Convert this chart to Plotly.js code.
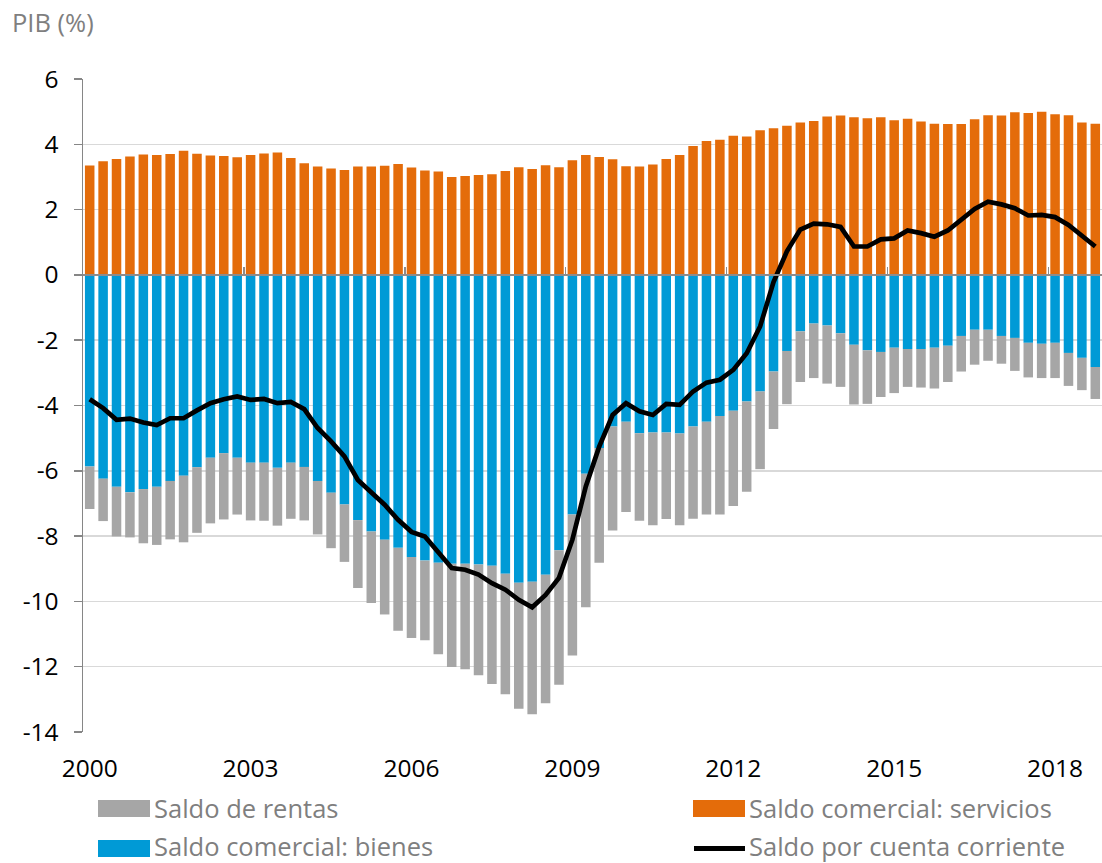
<!DOCTYPE html>
<html>
<head>
<meta charset="utf-8">
<script src="https://cdn.plot.ly/plotly-3.0.1.min.js"></script>
<style>
  html, body { margin: 0; padding: 0; background: #ffffff; }
  #chart { width: 1102px; height: 863px; }
</style>
</head>
<body>
<div id="chart"></div>
<script>
// ---- Data (quarterly, 2000 T1 - 2018 T4), % of GDP ----
const years = [2000,2001,2002,2003,2004,2005,2006,2007,2008,2009,2010,2011,2012,2013,2014,2015,2016,2017,2018];
const quartersPerYear = ['T1','T2','T3','T4'];

const nameRentas = 'Saldo de rentas';
const nameServicios = 'Saldo comercial: servicios';
const nameBienes = 'Saldo comercial: bienes';
const nameCuenta = 'Saldo por cuenta corriente';

const servicios = [
  3.35,3.48,3.55,3.63, 3.69,3.67,3.70,3.80, 3.71,3.66,3.64,3.60, 3.67,3.72,3.75,3.58,
  3.42,3.32,3.26,3.21, 3.32,3.32,3.34,3.40, 3.29,3.20,3.17,3.00, 3.03,3.06,3.08,3.18,
  3.30,3.24,3.36,3.30, 3.51,3.67,3.61,3.54, 3.33,3.32,3.38,3.55, 3.67,3.95,4.10,4.14,
  4.26,4.24,4.43,4.49, 4.57,4.67,4.71,4.85, 4.88,4.83,4.80,4.83, 4.74,4.78,4.70,4.63,
  4.62,4.62,4.77,4.89, 4.88,4.98,4.96,5.00, 4.92,4.89,4.67,4.63
];
const bienes = [
  -5.87,-6.24,-6.49,-6.66, -6.56,-6.49,-6.31,-6.15, -5.89,-5.60,-5.46,-5.60, -5.75,-5.75,-5.91,-5.75,
  -5.88,-6.31,-6.67,-7.03, -7.51,-7.86,-8.11,-8.36, -8.64,-8.75,-8.82,-8.85, -8.85,-8.87,-8.91,-9.15,
  -9.43,-9.40,-9.18,-8.43, -7.34,-6.09,-5.30,-4.64, -4.50,-4.85,-4.83,-4.83, -4.86,-4.64,-4.50,-4.32,
  -4.16,-3.88,-3.57,-2.96, -2.33,-1.73,-1.49,-1.55, -1.79,-2.14,-2.31,-2.36, -2.23,-2.27,-2.27,-2.23,
  -2.17,-1.87,-1.68,-1.68, -1.87,-1.93,-2.08,-2.11, -2.08,-2.39,-2.54,-2.82
];
const rentas = [
  -1.30,-1.30,-1.52,-1.38, -1.66,-1.78,-1.79,-2.04, -2.01,-2.01,-2.03,-1.74, -1.77,-1.78,-1.77,-1.72,
  -1.64,-1.64,-1.70,-1.76, -2.08,-2.19,-2.29,-2.54, -2.48,-2.44,-2.80,-3.16, -3.23,-3.39,-3.62,-3.69,
  -3.86,-4.06,-3.94,-4.12, -4.32,-4.09,-3.52,-3.19, -2.76,-2.68,-2.84,-2.65, -2.81,-2.83,-2.84,-3.02,
  -2.92,-2.76,-2.38,-1.76, -1.63,-1.55,-1.67,-1.78, -1.64,-1.83,-1.64,-1.38, -1.39,-1.16,-1.18,-1.25,
  -1.11,-1.09,-1.07,-0.95, -0.85,-1.01,-1.06,-1.05, -1.08,-1.01,-0.99,-0.98
];
const cuentaCorriente = [
  -3.81,-4.08,-4.44,-4.40, -4.52,-4.60,-4.39,-4.39, -4.15,-3.93,-3.81,-3.72, -3.83,-3.80,-3.93,-3.89,
  -4.11,-4.69,-5.10,-5.56, -6.28,-6.68,-7.04,-7.50, -7.87,-8.01,-8.47,-8.98, -9.03,-9.18,-9.44,-9.64,
  -9.95,-10.18,-9.80,-9.28, -8.11,-6.48,-5.26,-4.29, -3.93,-4.18,-4.29,-3.95, -3.98,-3.57,-3.30,-3.21,
  -2.91,-2.40,-1.58,-0.22, 0.72,1.39,1.57,1.55, 1.47,0.87,0.87,1.09, 1.12,1.36,1.28,1.17,
  1.36,1.68,2.02,2.24, 2.16,2.04,1.82,1.84, 1.77,1.53,1.19,0.87
];

const yearTickLabels = ['2000','2003','2006','2009','2012','2015','2018'];
const yTickVals = [6,4,2,0,-2,-4,-6,-8,-10,-12,-14];
const yTickText = ['6','4','2','0','-2','-4','-6','-8','-10','-12','-14'];

// ---- Build quarter positions (center of each quarter on a year scale) ----
const quarterLabels = [];
const xq = [];
years.forEach(y => quartersPerYear.forEach((q, i) => {
  quarterLabels.push(y + ' ' + q);
  xq.push(y + (i + 0.5) / 4);
}));
const yearTickVals = yearTickLabels.map(s => Number(s) + 0.125);
const boundaryTicks = yearTickLabels.slice(1).map(Number);

const colServ = '#E46C0A', colBien = '#009AD6', colRent = '#A6A6A6', colLine = '#000000';
const fontFam = '"Open Sans", "Noto Sans", sans-serif';

const traces = [
  { type: 'bar', name: nameBienes, x: xq, y: bienes, text: quarterLabels, hoverinfo: 'text+y',
    marker: { color: colBien }, showlegend: false },
  { type: 'bar', name: nameRentas, x: xq, y: rentas, text: quarterLabels, hoverinfo: 'text+y',
    marker: { color: colRent }, showlegend: false },
  { type: 'bar', name: nameServicios, x: xq, y: servicios, text: quarterLabels, hoverinfo: 'text+y',
    marker: { color: colServ }, showlegend: false },
  { type: 'scatter', mode: 'lines', name: nameCuenta, x: xq, y: cuentaCorriente, xaxis: 'x2', yaxis: 'y',
    line: { color: colLine, width: 4.7 }, showlegend: false }
];
traces.forEach(t => { if (t.type === 'bar') t.textposition = 'none'; });

// ---- Layout geometry helpers ----
const W = 1102, H = 863;
const mL = 83, mR = 0, mT = 79, mB = 131;
const pw = W - mL - mR, ph = H - mT - mB;
const px = v => (v - mL) / pw;
const py = v => (H - mB - v) / ph;

const legendFont = { family: fontFam, size: 25.5, color: '#7F7F7F' };
const shapes = [
  { type: 'rect', xref: 'paper', yref: 'paper', x0: px(98), x1: px(150), y0: py(800), y1: py(817),
    fillcolor: colRent, line: { width: 0 } },
  { type: 'rect', xref: 'paper', yref: 'paper', x0: px(98), x1: px(150), y0: py(840), y1: py(857),
    fillcolor: colBien, line: { width: 0 } },
  { type: 'rect', xref: 'paper', yref: 'paper', x0: px(693), x1: px(745), y0: py(800), y1: py(817),
    fillcolor: colServ, line: { width: 0 } },
  { type: 'line', xref: 'paper', yref: 'paper', x0: px(694), x1: px(745), y0: py(848.5), y1: py(848.5),
    line: { color: colLine, width: 5 } }
];
const annotations = [
  { xref: 'paper', yref: 'paper', x: px(153), y: py(807.5), xanchor: 'left', yanchor: 'middle',
    text: nameRentas, showarrow: false, font: legendFont, borderpad: 0 },
  { xref: 'paper', yref: 'paper', x: px(153), y: py(846), xanchor: 'left', yanchor: 'middle',
    text: nameBienes, showarrow: false, font: legendFont, borderpad: 0 },
  { xref: 'paper', yref: 'paper', x: px(748), y: py(807.5), xanchor: 'left', yanchor: 'middle',
    text: nameServicios, showarrow: false, font: legendFont, borderpad: 0 },
  { xref: 'paper', yref: 'paper', x: px(748), y: py(846), xanchor: 'left', yanchor: 'middle',
    text: nameCuenta, showarrow: false, font: legendFont, borderpad: 0 }
];

const layout = {
  width: W, height: H,
  margin: { l: mL, r: mR, t: mT, b: mB, pad: 0 },
  paper_bgcolor: '#ffffff', plot_bgcolor: '#ffffff',
  font: { family: fontFam, size: 24.5, color: '#000000' },
  title: { text: 'PIB (%)', xref: 'container', yref: 'container', x: 12 / W, xanchor: 'left',
    y: 1 - 23 / H, yanchor: 'middle', font: { family: fontFam, size: 25.5, color: '#7F7F7F' } },
  barmode: 'relative', bargap: 0.29,
  showlegend: false,
  xaxis: {
    range: [2000, 2019], fixedrange: true,
    tickmode: 'array', tickvals: yearTickVals, ticktext: yearTickLabels,
    ticks: '', showline: false, showgrid: false, zeroline: false,
    ticklabelstandoff: 19,
    tickfont: { family: fontFam, size: 24.5, color: '#000000' }
  },
  xaxis2: {
    range: [2000, 2019], overlaying: 'x', anchor: 'free', position: 0.7, side: 'top',
    tickmode: 'array', tickvals: boundaryTicks, ticks: 'outside', ticklen: 8, tickwidth: 1.5,
    tickcolor: '#8C8C8C', showticklabels: false, showline: false, showgrid: false, zeroline: false
  },
  yaxis: {
    range: [-14, 6], tickmode: 'array', tickvals: yTickVals, ticktext: yTickText,
    ticks: 'outside', ticklen: 8, tickwidth: 1.5, tickcolor: '#868686',
    showline: true, linecolor: '#868686', linewidth: 1.5,
    showgrid: true, gridcolor: '#D9D9D9', gridwidth: 1.5,
    zeroline: true, zerolinecolor: '#8C8C8C', zerolinewidth: 2, zerolinelayer: 'above traces',
    ticklabelstandoff: 10,
    tickfont: { family: fontFam, size: 24.5, color: '#000000' }
  },
  shapes: shapes,
  annotations: annotations
};

Plotly.newPlot('chart', traces, layout, { displayModeBar: false, staticPlot: true });
</script>
</body>
</html>
